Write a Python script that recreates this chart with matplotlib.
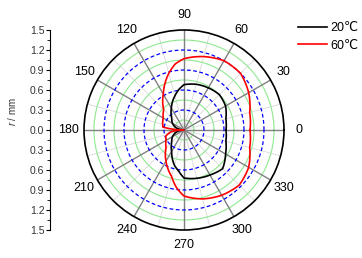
import numpy as np
import matplotlib
matplotlib.use("Agg")
import matplotlib.pyplot as plt
from matplotlib.ticker import FixedLocator

plt.rcParams['font.family'] = ['Liberation Sans', 'DejaVu Sans']
plt.rcParams['mathtext.fontset'] = 'custom'
plt.rcParams['mathtext.it'] = 'Liberation Sans:italic'
plt.rcParams['mathtext.rm'] = 'Liberation Sans'

# angle (deg) and radius (mm)
ang_20 = [0, 15, 30, 45, 60, 75, 90, 97.5, 105, 120, 135, 150, 165, 180,
          195, 210, 225, 240, 255, 262.5, 270, 285, 300, 315, 330, 345, 360]
r_20 = [0.63, 0.65, 0.72, 0.75, 0.73, 0.71, 0.68, 0.61, 0.53, 0.38, 0.26, 0.20, 0.12, 0.0,
        0.12, 0.20, 0.26, 0.37, 0.55, 0.62, 0.72, 0.75, 0.78, 0.82, 0.72, 0.65, 0.63]

ang_60 = [0, 15, 30, 45, 60, 75, 90, 97.5, 105, 120, 135, 150, 165, 172, 180,
          188, 199, 210, 225, 240, 255, 262.5, 270, 285, 300, 315, 330, 345, 360]
r_60 = [0.99, 1.02, 1.12, 1.20, 1.20, 1.14, 1.07, 1.00, 0.88, 0.62, 0.43, 0.36, 0.33, 0.32, 0.0,
        0.20, 0.29, 0.31, 0.38, 0.54, 0.72, 0.87, 0.99, 1.07, 1.13, 1.17, 1.12, 1.02, 0.99]

series = [("20\u2103", ang_20, r_20, "black"),
          ("60\u2103", ang_60, r_60, "red")]

ang_labels = [str(a) for a in range(0, 360, 30)]
r_ticks = np.arange(-1.5, 1.51, 0.3)

W, H = 362, 258
fig = plt.figure(figsize=(W / 100, H / 100), dpi=100)

ax = fig.add_axes([84 / W, 28 / H, 200 / W, 200 / H], projection='polar')
ax.set_ylim(0, 1.5)
ax.grid(False)
ax.set_yticks([])

# grid circles and spokes
full = np.linspace(0, 2 * np.pi, 361)
for rr in np.arange(0.15, 1.5, 0.3):
    ax.plot(full, np.full_like(full, rr), color='#8fe88f', lw=0.8, zorder=1)
for rr in np.arange(0.3, 1.5, 0.3):
    ax.plot(full, np.full_like(full, rr), color='#0000ff', lw=0.9,
            ls=(0, (3, 2)), zorder=1.5)
for a in range(15, 360, 30):
    ax.plot([np.deg2rad(a)] * 2, [0, 1.5], color='#d9d9d9', lw=0.6, zorder=0.9)
for a in range(0, 360, 30):
    ax.plot([np.deg2rad(a)] * 2, [0, 1.5], color='#808080', lw=1.0, zorder=1.2)

for name, ang, rad, col in series:
    line, = ax.plot(np.deg2rad(ang), rad, color=col, lw=1.2, label=name, zorder=3)
    # let the polar transform curve each segment
    line.get_path()._interpolation_steps = 40

ax.set_xticks(np.deg2rad(np.arange(0, 360, 30)))
ax.set_xticklabels(ang_labels, fontsize=9)
ax.xaxis.set_minor_locator(FixedLocator(np.deg2rad(np.arange(15, 360, 30))))
ax.tick_params(axis='x', which='major', direction='in', length=6, width=1,
               color='black', pad=4)
ax.tick_params(axis='x', which='minor', direction='in', length=3, width=0.8,
               color='black')
ax.spines['polar'].set_linewidth(1.2)
ax.spines['polar'].set_color('black')

# linear radius scale on the left
lax = fig.add_axes([50 / W, 28 / H, 0.0001, 200 / H])
lax.set_ylim(-1.5, 1.5)
lax.patch.set_visible(False)
for s in ['top', 'right', 'bottom']:
    lax.spines[s].set_visible(False)
lax.spines['left'].set_linewidth(0.8)
lax.set_xticks([])
lax.set_yticks(r_ticks)
lax.set_yticklabels([f"{abs(v):.1f}" for v in r_ticks], fontsize=7.5, color='#333333')
lax.yaxis.set_minor_locator(FixedLocator(np.arange(-1.35, 1.4, 0.3)))
lax.tick_params(axis='y', which='major', length=3, width=0.8, pad=1)
lax.tick_params(axis='y', which='minor', length=2, width=0.6)
fig.text(12 / W, (H - 112) / H, r"$\mathit{r}$ / mm", rotation=90,
         ha='center', va='center', fontsize=7, color='#333333')

fig.legend(loc='upper left', bbox_to_anchor=(298 / W, (H - 22) / H),
           frameon=False, borderpad=0, borderaxespad=0, handlelength=2.3,
           handletextpad=0.3, labelspacing=0.45, fontsize=9)

fig.savefig("out.png", dpi=100)
